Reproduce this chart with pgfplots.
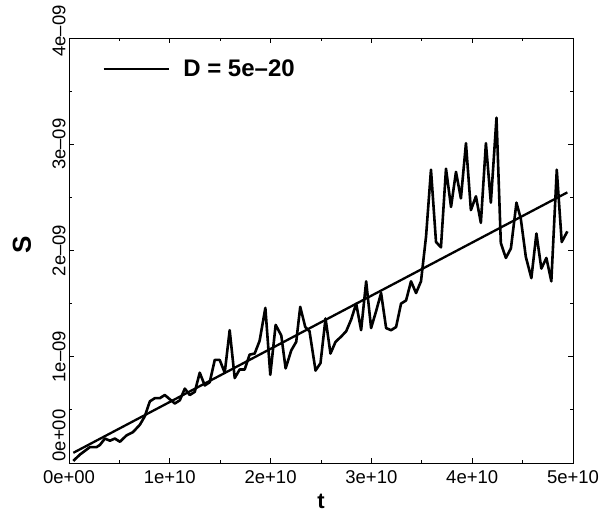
\documentclass[border=0pt]{standalone}
\usepackage{fontspec}
\setmainfont{Liberation Sans}
\usepackage{pgfplots}
\pgfplotsset{compat=1.18}
% t in units of 1e10, S in units of 1e-9
\pgfplotstableread{
t S
0.043 0.02
0.109 0.08
0.208 0.15
0.274 0.15
0.307 0.17
0.356 0.23
0.406 0.21
0.455 0.23
0.505 0.20
0.571 0.26
0.634 0.29
0.703 0.36
0.752 0.44
0.802 0.58
0.851 0.61
0.901 0.61
0.950 0.64
1.000 0.60
1.050 0.56
1.099 0.59
1.149 0.70
1.198 0.64
1.248 0.67
1.297 0.85
1.347 0.73
1.396 0.76
1.446 0.97
1.495 0.97
1.545 0.85
1.594 1.25
1.644 0.80
1.693 0.88
1.743 0.88
1.792 1.02
1.842 1.03
1.891 1.15
1.948 1.46
1.997 0.83
2.050 1.30
2.106 1.20
2.149 0.89
2.205 1.06
2.254 1.14
2.294 1.47
2.344 1.28
2.386 1.24
2.446 0.87
2.495 0.94
2.545 1.36
2.594 1.03
2.644 1.14
2.700 1.19
2.750 1.24
2.799 1.35
2.849 1.50
2.898 1.25
2.948 1.71
2.997 1.27
3.047 1.43
3.096 1.60
3.146 1.27
3.195 1.25
3.245 1.28
3.294 1.50
3.344 1.53
3.393 1.71
3.443 1.60
3.492 1.71
3.542 2.13
3.591 2.76
3.641 2.08
3.690 2.03
3.740 2.77
3.790 2.41
3.839 2.74
3.888 2.49
3.938 3.01
3.987 2.38
4.037 2.51
4.086 2.26
4.136 3.01
4.185 2.45
4.241 3.25
4.284 2.07
4.334 1.93
4.384 2.02
4.439 2.45
4.482 2.30
4.532 1.94
4.587 1.74
4.637 2.16
4.686 1.83
4.736 1.93
4.785 1.71
4.839 2.76
4.888 2.08
4.944 2.18
}\datatable
\begin{document}
\begin{tikzpicture}
\begin{axis}[
  scale only axis, width=504pt, height=425pt,
  xmin=0, xmax=5, ymin=0, ymax=4,
  xtick={0,1,2,3,4,5},
  xticklabels={0e+00,1e+10,2e+10,3e+10,4e+10,5e+10},
  ytick={0,1,2,3,4},
  yticklabels={\hspace*{55pt}0e+00,1e–09,2e–09,3e–09,\hspace*{14pt}4e–09},
  minor x tick num=1, minor y tick num=1,
  tick align=inside,
  major tick length=5pt, minor tick length=3pt,
  every tick/.style={black, line width=0.8pt},
  axis line style={line width=0.9pt},
  ticklabel style={font=\fontsize{18.5}{20}\selectfont},
  xticklabel style={yshift=-4pt},
  yticklabel style={rotate=90, anchor=south},
  xlabel={t}, ylabel={S},
  xlabel style={font=\bfseries\fontsize{22}{23}\selectfont, inner sep=0pt, at={(axis description cs:0.5,-0.072)}, anchor=north},
  ylabel style={font=\bfseries\fontsize{26}{28}\selectfont, inner sep=0pt, at={(axis description cs:-0.0933,0.513)}, anchor=center},
  legend style={draw=none, fill=none, inner sep=0pt, outer sep=0pt,
    at={(axis description cs:0.0675,0.927)}, anchor=west,
    nodes={inner sep=0pt, anchor=west},
    /tikz/column sep=14pt,
    font=\bfseries\fontsize{24}{26}\selectfont},
  legend image code/.code={\draw[line width=1.3pt] (0pt,0pt) -- (65pt,0pt);},
]
\addplot[black, line width=2.6pt, line join=round] table[x=t, y=S] {\datatable};
\addlegendentry{D = 5e–20}
\addplot[black, line width=2.3pt, forget plot] coordinates {(0.043,0.096) (4.944,2.547)};
\end{axis}
\pgfresetboundingbox
\path (-69pt,-52pt) rectangle (533pt,463pt);
\end{tikzpicture}
\end{document}
